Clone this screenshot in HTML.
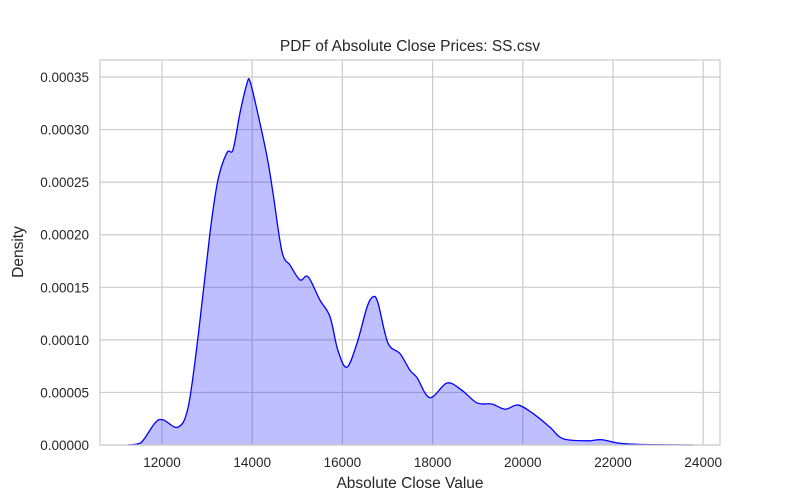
<!DOCTYPE html>
<html><head><meta charset="utf-8"><style>
body{margin:0;background:#fff}
svg{display:block;font-family:"Liberation Sans",sans-serif}
</style></head><body>
<svg id="chart" width="800" height="500">
<rect width="800" height="500" fill="#fff"/>
<g id="grid"></g>
<path id="area" fill="rgba(0,0,255,0.25)" stroke="none"/>
<path id="line" fill="none" stroke="#0000ff" stroke-width="1.3"/>
<rect x="100" y="60" width="620" height="385" fill="none" stroke="#cccccc" stroke-width="1.2"/>
<g id="ticks"></g>
<text x="410" y="51" text-anchor="middle" font-size="15.5" fill="#262626">PDF of Absolute Close Prices: SS.csv</text>
<text x="410" y="488" text-anchor="middle" font-size="15.5" fill="#262626">Absolute Close Value</text>
<text transform="translate(23,252) rotate(-90)" text-anchor="middle" font-size="15.5" fill="#262626">Density</text>
</svg>
<script>
const xTicks=[12000,14000,16000,18000,20000,22000,24000];
const yTicks=[0,0.00005,0.0001,0.00015,0.0002,0.00025,0.0003,0.00035];
const yTickLabels=["0.00000","0.00005","0.00010","0.00015","0.00020","0.00025","0.00030","0.00035"];
const xs=[11250,11530,11845,12020,12355,12580,12800,13065,13240,13440,13575,13730,13885,13950,14105,14330,14460,14660,14840,15060,15240,15500,15725,15900,16100,16325,16545,16680,16790,17010,17275,17500,17655,17940,18320,18650,18985,19315,19605,19895,20225,20600,20890,21425,21755,22310,23770];
const ys=[0,0.000002,0.000021,0.000024,0.000017,0.000036,0.000103,0.000202,0.000252,0.000278,0.000281,0.000316,0.000344,0.000346,0.000319,0.000274,0.000240,0.000184,0.000171,0.000157,0.000160,0.000138,0.000122,0.000090,0.000074,0.000097,0.000131,0.000141,0.000135,0.000097,0.000087,0.000071,0.000064,0.000045,0.000059,0.000052,0.000040,0.000039,0.000034,0.000038,0.000030,0.000017,0.000006,0.000004,0.000005,0.000001,0];
const X=v=>162+(v-12000)*(90.2/2000);
const Y=v=>445-v*(52.57/0.00005);
const NS="http://www.w3.org/2000/svg";
const grid=document.getElementById('grid'),ticks=document.getElementById('ticks');
xTicks.forEach(t=>{
 const l=document.createElementNS(NS,'line');
 
 
 l.setAttribute('x1',X(t));l.setAttribute('x2',X(t));l.setAttribute('y1',60);l.setAttribute('y2',445);
 l.setAttribute('stroke','#cccccc');l.setAttribute('stroke-width','1.2');grid.appendChild(l);
 const tx=document.createElementNS(NS,'text');
 
 
 tx.setAttribute('x',X(t));tx.setAttribute('y',467);tx.setAttribute('text-anchor','middle');
 tx.setAttribute('font-size','13.5');tx.setAttribute('fill','#262626');tx.textContent=t;ticks.appendChild(tx);
});
yTicks.forEach((t,i)=>{
 const l=document.createElementNS(NS,'line');
 
 
 l.setAttribute('x1',100);l.setAttribute('x2',720);l.setAttribute('y1',Y(t));l.setAttribute('y2',Y(t));
 l.setAttribute('stroke','#cccccc');l.setAttribute('stroke-width','1.2');grid.appendChild(l);
 const tx=document.createElementNS(NS,'text');
 
 
 tx.setAttribute('x',89);tx.setAttribute('y',Y(t)+5);tx.setAttribute('text-anchor','end');
 tx.setAttribute('font-size','13.5');tx.setAttribute('fill','#262626');tx.textContent=yTickLabels[i];ticks.appendChild(tx);
});
const P=xs.map((x,i)=>[X(x),Y(ys[i])]);
let d=`M${P[0][0]},${P[0][1]}`;
for(let i=0;i<P.length-1;i++){
 const p0=P[i-1]||P[i],p1=P[i],p2=P[i+1],p3=P[i+2]||P[i+1];
 const c1=[p1[0]+(p2[0]-p0[0])/6,p1[1]+(p2[1]-p0[1])/6];
 const c2=[p2[0]-(p3[0]-p1[0])/6,p2[1]-(p3[1]-p1[1])/6];
 d+=` C${c1[0]},${Math.min(445,c1[1])} ${c2[0]},${Math.min(445,c2[1])} ${p2[0]},${p2[1]}`;
}
document.getElementById('line').setAttribute('d',d);
document.getElementById('area').setAttribute('d',d+` L${P[P.length-1][0]},445 L${P[0][0]},445 Z`);
</script>
</body></html>
